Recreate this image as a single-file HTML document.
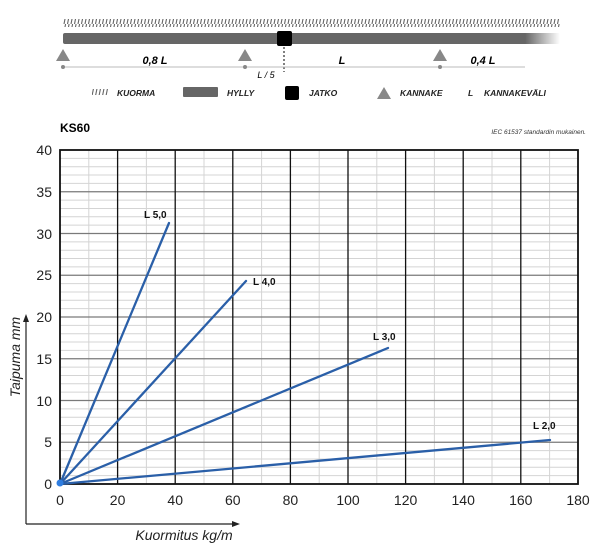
<!DOCTYPE html>
<html><head><meta charset="utf-8"><style>
body{margin:0;background:#fff}
svg{display:block}
text{font-family:"Liberation Sans",sans-serif}
.n{font-family:"Liberation Sans Narrow","Liberation Sans",sans-serif}
</style></head><body>
<svg width="600" height="552" viewBox="0 0 600 552" xmlns="http://www.w3.org/2000/svg">
<defs>
<linearGradient id="bar" x1="0" x2="1" y1="0" y2="0">
<stop offset="0" stop-color="#666"/><stop offset="0.93" stop-color="#666"/><stop offset="1" stop-color="#666" stop-opacity="0"/>
</linearGradient>
<pattern id="hatch" width="3.5" height="8" patternUnits="userSpaceOnUse">
<line x1="2.6" y1="0" x2="1" y2="8" stroke="#666" stroke-width="1.1"/>
</pattern>
</defs>
<rect x="63" y="19" width="497" height="8" fill="url(#hatch)"/>
<rect x="63" y="33" width="497" height="11" rx="2" fill="url(#bar)"/>
<rect x="277" y="31" width="15" height="15" rx="2" fill="#000"/>
<line x1="284" y1="47" x2="284" y2="72" stroke="#000" stroke-width="1" stroke-dasharray="2,2"/>
<line x1="63" y1="67" x2="525" y2="67" stroke="#bbb" stroke-width="1"/>
<circle cx="63" cy="67" r="2" fill="#888"/><circle cx="245" cy="67" r="2" fill="#888"/><circle cx="440" cy="67" r="2" fill="#888"/>
<polygon points="63,49 56,61 70,61" fill="#888"/>
<polygon points="245,49 238,61 252,61" fill="#888"/>
<polygon points="440,49 433,61 447,61" fill="#888"/>
<g font-size="11" font-weight="bold" font-style="italic" fill="#000">
<text x="155" y="64" text-anchor="middle">0,8 L</text>
<text x="342" y="64" text-anchor="middle">L</text>
<text x="483" y="64" text-anchor="middle">0,4 L</text>
<text x="266" y="78" text-anchor="middle" font-weight="normal" font-size="9">L / 5</text>
</g>
<g font-size="8.5" font-weight="bold" font-style="italic" fill="#222">
<rect x="92" y="89" width="16" height="6" fill="url(#hatch)"/>
<text x="117" y="96">KUORMA</text>
<rect x="183" y="87" width="35" height="10" rx="1" fill="#666"/>
<text x="227" y="96">HYLLY</text>
<rect x="285" y="86" width="14" height="14" rx="2" fill="#000"/>
<text x="309" y="96">JATKO</text>
<polygon points="384,87 377,99 391,99" fill="#888"/>
<text x="400" y="96">KANNAKE</text>
<text x="468" y="96">L</text>
<text x="484" y="96">KANNAKEVÄLI</text>
</g>
<text x="60" y="132" font-size="12" font-weight="bold">KS60</text>
<text x="586" y="134" font-size="6.5" font-style="italic" text-anchor="end" fill="#333">IEC 61537 standardin mukainen.</text>
<g stroke="#d4d4d4" stroke-width="1">
<line x1="60" y1="475.65" x2="578" y2="475.65"/><line x1="60" y1="467.3" x2="578" y2="467.3"/><line x1="60" y1="458.95" x2="578" y2="458.95"/><line x1="60" y1="450.6" x2="578" y2="450.6"/>
<line x1="60" y1="433.9" x2="578" y2="433.9"/><line x1="60" y1="425.55" x2="578" y2="425.55"/><line x1="60" y1="417.2" x2="578" y2="417.2"/><line x1="60" y1="408.85" x2="578" y2="408.85"/>
<line x1="60" y1="392.15" x2="578" y2="392.15"/><line x1="60" y1="383.8" x2="578" y2="383.8"/><line x1="60" y1="375.45" x2="578" y2="375.45"/><line x1="60" y1="367.1" x2="578" y2="367.1"/>
<line x1="60" y1="350.4" x2="578" y2="350.4"/><line x1="60" y1="342.05" x2="578" y2="342.05"/><line x1="60" y1="333.7" x2="578" y2="333.7"/><line x1="60" y1="325.35" x2="578" y2="325.35"/>
<line x1="60" y1="308.65" x2="578" y2="308.65"/><line x1="60" y1="300.3" x2="578" y2="300.3"/><line x1="60" y1="291.95" x2="578" y2="291.95"/><line x1="60" y1="283.6" x2="578" y2="283.6"/>
<line x1="60" y1="266.9" x2="578" y2="266.9"/><line x1="60" y1="258.55" x2="578" y2="258.55"/><line x1="60" y1="250.2" x2="578" y2="250.2"/><line x1="60" y1="241.85" x2="578" y2="241.85"/>
<line x1="60" y1="225.15" x2="578" y2="225.15"/><line x1="60" y1="216.8" x2="578" y2="216.8"/><line x1="60" y1="208.45" x2="578" y2="208.45"/><line x1="60" y1="200.1" x2="578" y2="200.1"/>
<line x1="60" y1="183.4" x2="578" y2="183.4"/><line x1="60" y1="175.05" x2="578" y2="175.05"/><line x1="60" y1="166.7" x2="578" y2="166.7"/><line x1="60" y1="158.35" x2="578" y2="158.35"/>
<line x1="88.8" y1="150" x2="88.8" y2="484"/><line x1="146.4" y1="150" x2="146.4" y2="484"/><line x1="204" y1="150" x2="204" y2="484"/><line x1="261.6" y1="150" x2="261.6" y2="484"/><line x1="319.2" y1="150" x2="319.2" y2="484"/><line x1="376.8" y1="150" x2="376.8" y2="484"/><line x1="434.4" y1="150" x2="434.4" y2="484"/><line x1="492" y1="150" x2="492" y2="484"/><line x1="549.6" y1="150" x2="549.6" y2="484"/>
</g>
<g stroke="#7a7a7a" stroke-width="1.3">
<line x1="60" y1="442.25" x2="578" y2="442.25"/><line x1="60" y1="400.5" x2="578" y2="400.5"/><line x1="60" y1="358.75" x2="578" y2="358.75"/><line x1="60" y1="317" x2="578" y2="317"/><line x1="60" y1="275.25" x2="578" y2="275.25"/><line x1="60" y1="233.5" x2="578" y2="233.5"/><line x1="60" y1="191.75" x2="578" y2="191.75"/>
</g>
<g stroke="#111" stroke-width="1.3">
<line x1="117.6" y1="150" x2="117.6" y2="484"/><line x1="175.2" y1="150" x2="175.2" y2="484"/><line x1="232.8" y1="150" x2="232.8" y2="484"/><line x1="290.4" y1="150" x2="290.4" y2="484"/><line x1="348" y1="150" x2="348" y2="484"/><line x1="405.6" y1="150" x2="405.6" y2="484"/><line x1="463.2" y1="150" x2="463.2" y2="484"/><line x1="520.8" y1="150" x2="520.8" y2="484"/>
</g>
<rect x="60" y="150" width="518" height="334" fill="none" stroke="#111" stroke-width="1.8"/>
<g class="n" font-size="14" fill="#222" text-anchor="end">
<text x="52" y="155">40</text><text x="52" y="197">35</text><text x="52" y="239">30</text><text x="52" y="280">25</text><text x="52" y="322">20</text><text x="52" y="364">15</text><text x="52" y="406">10</text><text x="52" y="447">5</text><text x="52" y="489">0</text>
</g>
<g class="n" font-size="14" fill="#222" text-anchor="middle">
<text x="60" y="505">0</text><text x="117.6" y="505">20</text><text x="175.2" y="505">40</text><text x="232.8" y="505">60</text><text x="290.4" y="505">80</text><text x="348" y="505">100</text><text x="405.6" y="505">120</text><text x="463.2" y="505">140</text><text x="520.8" y="505">160</text><text x="578" y="505">180</text>
</g>
<g stroke="#2a5fa8" stroke-width="2.3" stroke-linecap="round">
<line x1="60" y1="484" x2="169" y2="223"/>
<line x1="60" y1="484" x2="246" y2="281"/>
<line x1="60" y1="484" x2="388" y2="348"/>
<line x1="60" y1="484" x2="550" y2="440"/>
</g>
<circle cx="60" cy="483" r="3.5" fill="#2f7de0"/>
<g font-size="10" font-weight="bold" fill="#111">
<text x="144" y="218">L 5,0</text>
<text x="253" y="285">L 4,0</text>
<text x="373" y="340">L 3,0</text>
<text x="533" y="429">L 2,0</text>
</g>
<g stroke="#222" stroke-width="1.2" fill="none">
<line x1="26" y1="524" x2="26" y2="320"/>
<line x1="26" y1="524" x2="234" y2="524"/>
</g>
<polygon points="26,314 23,322 29,322" fill="#222"/>
<polygon points="240,524 232,521 232,527" fill="#222"/>
<text class="n" transform="translate(20,357) rotate(-90)" font-size="14" font-style="italic" text-anchor="middle" fill="#222">Taipuma mm</text>
<text class="n" x="184" y="540" font-size="14" font-style="italic" text-anchor="middle" fill="#222">Kuormitus kg/m</text>
</svg>
</body></html>
